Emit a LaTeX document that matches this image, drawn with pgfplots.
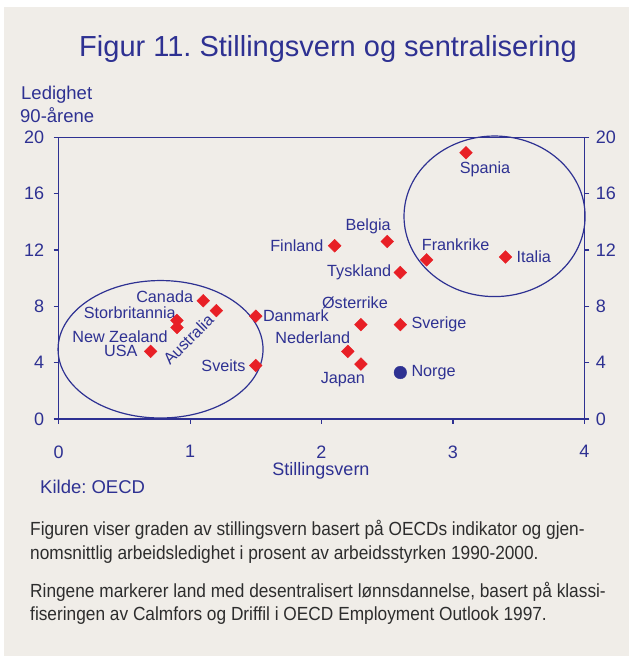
\documentclass[border=0pt]{standalone}
\usepackage{fontspec}
\setmainfont{Liberation Sans}
\newfontfamily\condfont[FakeStretch=0.91]{Liberation Sans}
\usepackage{pgfplots}
\pgfplotsset{compat=1.18}
\definecolor{bg}{RGB}{240,237,232}
\definecolor{navy}{RGB}{46,49,146}
\definecolor{dred}{RGB}{232,32,38}
\definecolor{capt}{RGB}{45,45,45}
\tikzset{lab/.style={text=navy, font=\fontsize{16.2}{16.2}\selectfont, inner sep=0pt}}
\frenchspacing
\begin{document}
\frenchspacing
\begin{tikzpicture}[x=1pt,y=1pt]
\useasboundingbox (0,0) rectangle (629,656);
\fill[white] (0,0) rectangle (629,656);
\fill[bg] (4,0) rectangle (629,649);
\begin{axis}[at={(58.7pt,237pt)}, anchor=south west, scale only axis,
  width=525.6pt, height=281.7pt, xmin=0, xmax=4, ymin=0, ymax=20,
  xtick={0,1,2,3,4}, ytick={0,4,...,20},
  axis line style={navy, line width=1.2pt},
  tick style={navy, line width=1.2pt}, tick align=outside, major tick length=5pt,
  xtick pos=bottom, ytick pos=both, yticklabel pos=left,
  /pgf/number format/assume math mode=true,
  ticklabel style={font=\fontsize{18}{18}\selectfont, text=navy},
  xticklabel style={yshift=-18pt},
  yticklabel style={xshift=-6pt},
  clip=false]
\draw[navy, line width=1.2pt] (axis cs:0.775,4.95) ellipse [x radius=0.78, y radius=4.88];
\draw[navy, line width=1.2pt] (axis cs:3.317,14.39) ellipse [x radius=0.689, y radius=5.70];
\addplot[only marks, mark=square*, mark size=4.5pt, mark options={fill=dred, draw=dred, rotate=45}] coordinates {
 (0.7,4.8) (0.9,6.5) (0.9,7.0) (1.1,8.4) (1.2,7.7) (1.5,7.3) (1.5,3.8)
 (2.1,12.3) (2.5,12.6) (2.6,10.4) (2.8,11.3) (3.4,11.5) (3.1,18.9)
 (2.3,6.7) (2.6,6.7) (2.2,4.8) (2.3,3.9)};
\addplot[only marks, mark=*, mark size=6.3pt, mark options={fill=navy, draw=navy}] coordinates {(2.6,3.3)};
\node[lab, anchor=east, xshift=-13pt] at (axis cs:0.7,4.8) {USA};
\node[lab, anchor=east, xshift=-9pt, yshift=-9pt] at (axis cs:0.9,6.5) {New Zealand};
\node[lab, anchor=east, xshift=-1pt, yshift=8pt] at (axis cs:0.9,7.0) {Storbritannia};
\node[lab, anchor=east, xshift=-10pt, yshift=4pt] at (axis cs:1.1,8.4) {Canada};
\node[lab, rotate=45] at ([shift={(-28pt,-29pt)}]axis cs:1.2,7.7) {Australia};
\node[lab, anchor=west, xshift=7pt] at (axis cs:1.5,7.3) {Danmark};
\node[lab, anchor=east, xshift=-10pt] at (axis cs:1.5,3.8) {Sveits};
\node[lab, anchor=east, xshift=-11pt] at (axis cs:2.1,12.3) {Finland};
\node[lab, xshift=-19pt, yshift=15pt] at (axis cs:2.5,12.6) {Belgia};
\node[lab, anchor=east, xshift=-9pt] at (axis cs:2.6,10.4) {Tyskland};
\node[lab, xshift=29pt, yshift=15pt] at (axis cs:2.8,11.3) {Frankrike};
\node[lab, anchor=west, xshift=11pt] at (axis cs:3.4,11.5) {Italia};
\node[lab, xshift=19pt, yshift=-17pt] at (axis cs:3.1,18.9) {Spania};
\node[lab, xshift=-6pt, yshift=22pt] at (axis cs:2.3,6.7) {Østerrike};
\node[lab, anchor=west, xshift=11pt] at (axis cs:2.6,6.7) {Sverige};
\node[lab, xshift=-35pt, yshift=14pt] at (axis cs:2.2,4.8) {Nederland};
\node[lab, xshift=-18pt, yshift=-16pt] at (axis cs:2.3,3.9) {Japan};
\node[lab, anchor=west, xshift=11pt] at (axis cs:2.6,3.3) {Norge};
\end{axis}
\begin{axis}[at={(58.7pt,237pt)}, anchor=south west, scale only axis,
  width=525.6pt, height=281.7pt, xmin=0, xmax=4, ymin=0, ymax=20,
  ytick={0,4,...,20}, hide x axis, axis y line*=right,
  y axis line style={draw=none}, major tick length=0pt,
  ytick style={draw=none},
  /pgf/number format/assume math mode=true,
  yticklabel style={font=\fontsize{18}{18}\selectfont, text=navy, xshift=8pt}]
\end{axis}
\node[anchor=base, text=navy, font=\fontsize{29}{29}\selectfont] at (328,599) {Figur 11. Stillingsvern og sentralisering};
\node[anchor=base west, text=navy, font=\fontsize{18.5}{18.5}\selectfont, inner sep=0pt] at (21,556) {Ledighet};
\node[anchor=base west, text=navy, font=\fontsize{18.5}{18.5}\selectfont, inner sep=0pt] at (20,533) {90-årene};
\node[anchor=base, text=navy, font=\fontsize{18}{18}\selectfont, inner sep=0pt] at (321,180) {Stillingsvern};
\node[anchor=base west, text=navy, font=\fontsize{18.5}{18.5}\selectfont, inner sep=0pt] at (40,162) {Kilde: OECD};
\begin{scope}[every node/.style={anchor=base west, text=capt, inner sep=0pt, font=\condfont\fontsize{19}{19}\selectfont}]
\node at (30,120) {Figuren viser graden av stillingsvern basert på OECDs indikator og gjen-};
\node at (30,96) {nomsnittlig arbeidsledighet i prosent av arbeidsstyrken 1990-2000.};
\node at (30,58) {Ringene markerer land med desentralisert lønnsdannelse, basert på klassi-};
\node at (30,35) {fiseringen av Calmfors og Driffil i OECD Employment Outlook 1997.};
\end{scope}
\end{tikzpicture}
\end{document}
